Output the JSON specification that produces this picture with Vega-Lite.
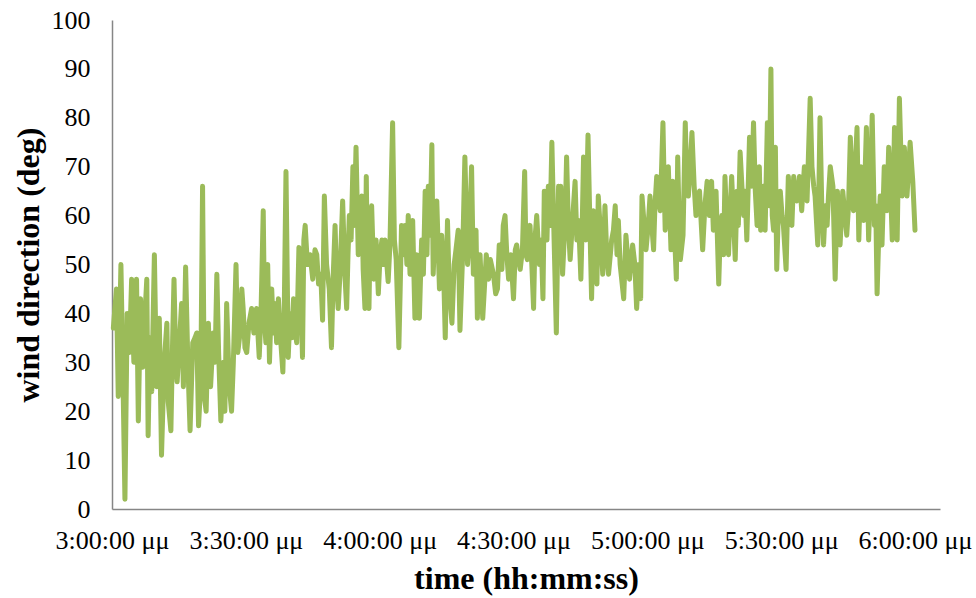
{
 "$schema": "https://vega.github.io/schema/vega-lite/v6.json",
 "width": 828,
 "height": 489,
 "autosize": {"type": "none"},
 "padding": {"left": 112, "top": 20, "right": 36, "bottom": 89},
 "background": "white",
 "config": {"view": {"stroke": null}, "font": "Liberation Serif"},
 "data": {"values": [
{"t":0.3,"v":37},{"t":1.0,"v":45},{"t":1.4,"v":23},{"t":2.0,"v":50},{"t":2.4,"v":30},{"t":2.9,"v":2},{"t":3.4,"v":40},{"t":3.9,"v":32},{"t":4.4,"v":47},{"t":4.9,"v":30},
{"t":5.5,"v":47},{"t":5.9,"v":18},{"t":6.4,"v":43},{"t":6.9,"v":29},{"t":7.4,"v":40},{"t":7.8,"v":47},{"t":8.1,"v":15},{"t":8.5,"v":35},{"t":8.9,"v":24},{"t":9.5,"v":52},
{"t":10.0,"v":25},{"t":10.6,"v":39},{"t":11.1,"v":11},{"t":11.7,"v":30},{"t":12.3,"v":38},{"t":12.6,"v":22},{"t":13.2,"v":16},{"t":13.6,"v":35},{"t":13.9,"v":47},{"t":14.3,"v":30},
{"t":14.6,"v":26},{"t":15.1,"v":34},{"t":15.6,"v":42},{"t":16.0,"v":25},{"t":16.5,"v":49.5},{"t":17.0,"v":30},{"t":17.5,"v":16},{"t":18.1,"v":34},{"t":18.6,"v":35},{"t":19.0,"v":36},
{"t":19.4,"v":17},{"t":19.9,"v":26},{"t":20.3,"v":66},{"t":20.7,"v":23},{"t":21.1,"v":20},{"t":21.6,"v":38},{"t":22.1,"v":25},{"t":22.7,"v":36},{"t":23.1,"v":30},{"t":23.5,"v":48},
{"t":23.9,"v":32},{"t":24.4,"v":18},{"t":25.0,"v":30},{"t":25.3,"v":20},{"t":25.7,"v":42},{"t":26.3,"v":25},{"t":26.8,"v":20},{"t":27.2,"v":30},{"t":27.8,"v":50},{"t":28.2,"v":32},
{"t":28.7,"v":36},{"t":29.1,"v":45},{"t":29.4,"v":41},{"t":29.8,"v":33},{"t":30.2,"v":32},{"t":30.7,"v":38},{"t":31.3,"v":41},{"t":31.8,"v":36},{"t":32.4,"v":41},{"t":33.0,"v":31},
{"t":33.4,"v":40},{"t":33.9,"v":61},{"t":34.2,"v":38},{"t":34.5,"v":34},{"t":34.9,"v":50},{"t":35.3,"v":30},{"t":35.8,"v":45},{"t":36.2,"v":36},{"t":36.5,"v":42},{"t":36.9,"v":34},
{"t":37.3,"v":43},{"t":37.7,"v":36},{"t":38.3,"v":28},{"t":38.6,"v":40},{"t":39.0,"v":69},{"t":39.5,"v":31},{"t":39.9,"v":40},{"t":40.3,"v":35},{"t":40.7,"v":43},{"t":41.0,"v":37},
{"t":41.4,"v":34},{"t":41.9,"v":53.5},{"t":42.3,"v":45},{"t":42.7,"v":31},{"t":43.0,"v":55},{"t":43.3,"v":58},{"t":43.8,"v":50},{"t":44.4,"v":52},{"t":45.0,"v":47},{"t":45.5,"v":53},
{"t":45.9,"v":52},{"t":46.3,"v":46},{"t":46.8,"v":48},{"t":47.2,"v":38.6},{"t":47.6,"v":64},{"t":48.1,"v":50},{"t":48.7,"v":45},{"t":49.2,"v":33},{"t":49.6,"v":48},{"t":50.0,"v":58},
{"t":50.4,"v":45},{"t":50.7,"v":41},{"t":51.1,"v":48},{"t":51.7,"v":63},{"t":52.2,"v":48},{"t":52.6,"v":41},{"t":52.9,"v":52},{"t":53.2,"v":60},{"t":53.6,"v":55},{"t":54.0,"v":70},
{"t":54.3,"v":58},{"t":54.7,"v":74},{"t":55.2,"v":52},{"t":55.6,"v":56},{"t":56.0,"v":64},{"t":56.3,"v":49},{"t":56.7,"v":41},{"t":57.0,"v":68},{"t":57.3,"v":45},{"t":57.6,"v":41},
{"t":57.9,"v":58},{"t":58.2,"v":62},{"t":58.7,"v":47},{"t":59.2,"v":55},{"t":59.7,"v":44},{"t":60.1,"v":52},{"t":60.5,"v":55},{"t":60.8,"v":50},{"t":61.2,"v":55},{"t":61.9,"v":46.5},
{"t":62.3,"v":54},{"t":62.9,"v":79},{"t":63.3,"v":55},{"t":63.7,"v":51},{"t":64.3,"v":33},{"t":64.6,"v":45},{"t":64.9,"v":58},{"t":65.3,"v":52},{"t":65.7,"v":58},{"t":66.1,"v":50},
{"t":66.4,"v":60},{"t":66.8,"v":48},{"t":67.4,"v":59},{"t":67.9,"v":39},{"t":68.3,"v":52},{"t":68.9,"v":39},{"t":69.4,"v":55},{"t":69.8,"v":48},{"t":70.2,"v":65},{"t":70.6,"v":52},
{"t":70.9,"v":66},{"t":71.3,"v":56},{"t":71.7,"v":74.5},{"t":72.0,"v":48},{"t":72.4,"v":58},{"t":72.8,"v":63},{"t":73.4,"v":45},{"t":73.9,"v":56},{"t":74.3,"v":50},{"t":74.7,"v":35},
{"t":75.2,"v":59},{"t":75.6,"v":45},{"t":76.2,"v":38},{"t":76.7,"v":50},{"t":77.1,"v":53},{"t":77.6,"v":57},{"t":78.0,"v":36.5},{"t":78.6,"v":52},{"t":79.1,"v":72},{"t":79.7,"v":50},
{"t":80.1,"v":55},{"t":80.6,"v":70},{"t":81.0,"v":48},{"t":81.6,"v":57},{"t":81.9,"v":39},{"t":82.2,"v":50},{"t":82.5,"v":52},{"t":83.1,"v":39},{"t":83.9,"v":52},{"t":84.4,"v":47},
{"t":84.8,"v":51},{"t":85.5,"v":48},{"t":86.0,"v":44},{"t":86.4,"v":45},{"t":86.8,"v":54},{"t":87.0,"v":54},{"t":87.4,"v":49},{"t":87.7,"v":58},{"t":88.1,"v":60},{"t":88.5,"v":52},
{"t":88.9,"v":47},{"t":89.4,"v":52},{"t":90.0,"v":43},{"t":90.4,"v":53},{"t":90.7,"v":54},{"t":91.5,"v":49},{"t":92.0,"v":53},{"t":92.5,"v":69},{"t":92.8,"v":52},{"t":93.1,"v":51},
{"t":93.4,"v":56},{"t":93.7,"v":58},{"t":94.1,"v":50},{"t":94.5,"v":41},{"t":94.8,"v":55},{"t":95.2,"v":60},{"t":95.8,"v":50},{"t":96.2,"v":55},{"t":96.6,"v":43},{"t":96.9,"v":65},
{"t":97.5,"v":55},{"t":97.8,"v":66},{"t":98.2,"v":58},{"t":98.6,"v":75},{"t":99.1,"v":55},{"t":99.6,"v":36},{"t":100.1,"v":66},{"t":100.4,"v":55},{"t":100.6,"v":66},{"t":101.0,"v":48},
{"t":101.6,"v":60},{"t":101.9,"v":72},{"t":102.3,"v":58},{"t":102.7,"v":51},{"t":103.3,"v":60},{"t":103.8,"v":67},{"t":104.2,"v":55},{"t":104.6,"v":59},{"t":105.1,"v":47},{"t":105.4,"v":58},
{"t":105.7,"v":72},{"t":106.2,"v":55},{"t":106.7,"v":76.5},{"t":107.2,"v":55},{"t":107.5,"v":43},{"t":107.9,"v":61},{"t":108.3,"v":52},{"t":108.7,"v":46},{"t":109.0,"v":64},{"t":109.6,"v":55},
{"t":110.0,"v":48},{"t":110.5,"v":62},{"t":110.9,"v":52},{"t":111.3,"v":48},{"t":112.0,"v":55},{"t":112.4,"v":57},{"t":112.8,"v":62},{"t":113.2,"v":52},{"t":113.5,"v":59},{"t":113.9,"v":50},
{"t":114.7,"v":43},{"t":115.2,"v":56},{"t":116.0,"v":47},{"t":116.7,"v":54},{"t":117.2,"v":50},{"t":117.6,"v":41},{"t":118.1,"v":50},{"t":118.5,"v":43},{"t":118.8,"v":64},{"t":119.3,"v":58},
{"t":119.7,"v":53},{"t":120.2,"v":58},{"t":120.6,"v":64},{"t":121.0,"v":58},{"t":121.4,"v":53},{"t":121.7,"v":62},{"t":122.1,"v":68},{"t":122.5,"v":63},{"t":122.9,"v":61},{"t":123.5,"v":79},
{"t":123.8,"v":65},{"t":124.0,"v":57},{"t":124.4,"v":66},{"t":124.7,"v":70},{"t":125.3,"v":53},{"t":125.7,"v":67},{"t":126.1,"v":56},{"t":126.5,"v":47},{"t":126.8,"v":72},{"t":127.1,"v":60},
{"t":127.4,"v":51},{"t":128.0,"v":56},{"t":128.5,"v":79},{"t":128.9,"v":65},{"t":129.2,"v":64},{"t":129.6,"v":70},{"t":130.0,"v":77},{"t":130.5,"v":66},{"t":130.9,"v":60},{"t":131.3,"v":64},
{"t":131.7,"v":65},{"t":132.1,"v":58},{"t":132.4,"v":53},{"t":132.9,"v":62},{"t":133.4,"v":67},{"t":133.9,"v":60},{"t":134.4,"v":67},{"t":134.8,"v":57},{"t":135.4,"v":65},{"t":136.0,"v":46},
{"t":136.3,"v":55},{"t":136.7,"v":60},{"t":137.1,"v":52},{"t":137.4,"v":68},{"t":137.8,"v":58},{"t":138.2,"v":52},{"t":138.6,"v":62},{"t":138.9,"v":68},{"t":139.7,"v":51},{"t":140.1,"v":65},
{"t":140.4,"v":58},{"t":140.8,"v":73},{"t":141.2,"v":66},{"t":141.6,"v":60},{"t":141.9,"v":65},{"t":142.3,"v":55},{"t":142.9,"v":76},{"t":143.4,"v":66},{"t":143.8,"v":79},{"t":144.2,"v":65},
{"t":144.6,"v":58},{"t":145.1,"v":70},{"t":145.4,"v":57},{"t":146.0,"v":66},{"t":146.4,"v":57},{"t":146.9,"v":79},{"t":147.3,"v":62},{"t":147.7,"v":90},{"t":148.0,"v":60},{"t":148.3,"v":57},
{"t":148.7,"v":74},{"t":149.0,"v":49},{"t":149.4,"v":62},{"t":149.8,"v":65},{"t":150.2,"v":60},{"t":150.5,"v":58},{"t":151.1,"v":49},{"t":151.6,"v":68},{"t":152.0,"v":60},{"t":152.4,"v":58},
{"t":152.8,"v":68},{"t":153.1,"v":64},{"t":153.5,"v":63},{"t":154.1,"v":68},{"t":154.6,"v":61},{"t":155.2,"v":70},{"t":155.8,"v":63},{"t":156.1,"v":72},{"t":156.5,"v":84},{"t":156.9,"v":70},
{"t":157.3,"v":66},{"t":157.6,"v":64},{"t":158.2,"v":54},{"t":158.5,"v":68},{"t":158.7,"v":80},{"t":159.1,"v":62},{"t":159.5,"v":54},{"t":159.9,"v":62},{"t":160.3,"v":58},{"t":160.6,"v":64},
{"t":161.0,"v":70},{"t":161.6,"v":66},{"t":162.1,"v":47},{"t":162.6,"v":65},{"t":162.9,"v":58},{"t":163.2,"v":54},{"t":163.8,"v":65},{"t":164.3,"v":60},{"t":164.7,"v":56},{"t":165.1,"v":62},
{"t":165.5,"v":76},{"t":165.9,"v":66},{"t":166.2,"v":61},{"t":166.6,"v":70},{"t":167.0,"v":78},{"t":167.4,"v":55},{"t":167.9,"v":70},{"t":168.2,"v":64},{"t":168.5,"v":59},{"t":169.1,"v":78},
{"t":169.6,"v":55},{"t":170.0,"v":66},{"t":170.4,"v":80.5},{"t":170.9,"v":58},{"t":171.2,"v":62},{"t":171.5,"v":44},{"t":172.0,"v":60},{"t":172.2,"v":64},{"t":172.6,"v":54},{"t":173.1,"v":70},
{"t":173.7,"v":61},{"t":174.1,"v":74},{"t":174.5,"v":66},{"t":174.9,"v":55},{"t":175.4,"v":78},{"t":176.0,"v":55},{"t":176.5,"v":84},{"t":177.1,"v":64},{"t":177.6,"v":74},{"t":178.2,"v":64},
{"t":178.6,"v":70},{"t":178.9,"v":75},{"t":179.5,"v":67},{"t":180.0,"v":57}
 ]},
 "mark": {"type": "line", "color": "#9BBB59", "strokeWidth": 5, "strokeJoin": "round", "strokeCap": "round"},
 "encoding": {
  "x": {
   "field": "t", "type": "quantitative",
   "scale": {"domain": [0, 185.6], "nice": false, "zero": false},
   "axis": {
    "values": [0, 30, 60, 90, 120, 150, 180],
    "labelExpr": "['3:00:00 μμ','3:30:00 μμ','4:00:00 μμ','4:30:00 μμ','5:00:00 μμ','5:30:00 μμ','6:00:00 μμ'][round(datum.value/30)]",
    "grid": false, "ticks": false, "tickSize": 0,
    "domainColor": "#868686", "domainWidth": 1.5,
    "labelFont": "Liberation Serif", "labelFontSize": 26, "labelColor": "#000000",
    "labelPadding": 18, "labelOverlap": false, "labelBound": false, "labelFlush": false,
    "title": "time (hh:mm:ss)", "titleFont": "Liberation Serif", "titleFontSize": 32,
    "titleFontWeight": "bold", "titleColor": "#000000", "titlePadding": 10
   }
  },
  "y": {
   "field": "v", "type": "quantitative",
   "scale": {"domain": [0, 100], "nice": false},
   "axis": {
    "values": [0, 10, 20, 30, 40, 50, 60, 70, 80, 90, 100],
    "grid": false, "ticks": false, "tickSize": 0,
    "domainColor": "#868686", "domainWidth": 1.5,
    "labelFont": "Liberation Serif", "labelFontSize": 26, "labelColor": "#000000",
    "labelPadding": 22, "labelBound": false,
    "title": "wind direction (deg)", "titleFont": "Liberation Serif", "titleFontSize": 32,
    "titleFontWeight": "bold", "titleColor": "#000000", "titlePadding": 6
   }
  }
 }
}
